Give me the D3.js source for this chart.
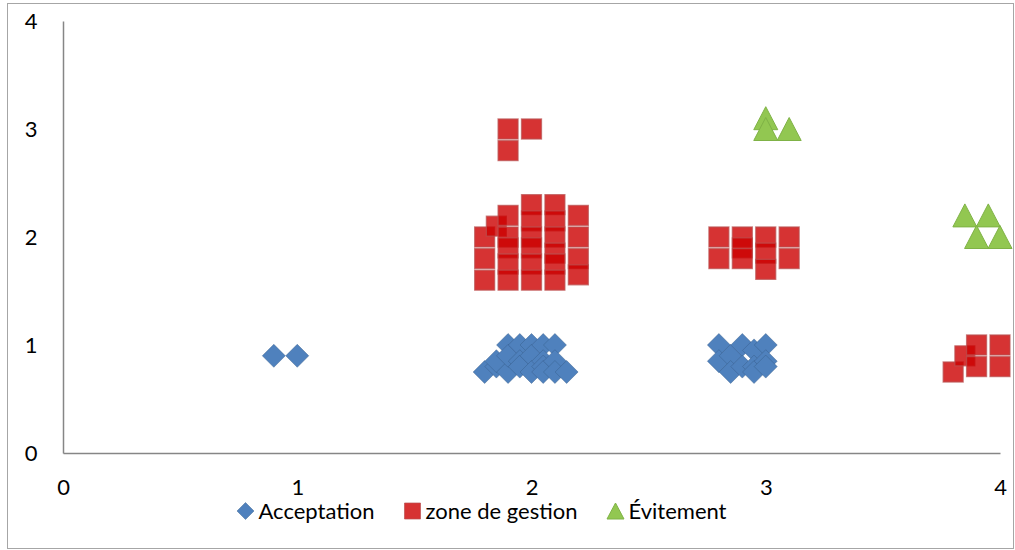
<!DOCTYPE html>
<html>
<head>
<meta charset="utf-8">
<script src="https://cdn.jsdelivr.net/npm/d3@7"></script>
<style>
  body { margin: 0; background: #fff; }
  svg { display: block; }
  text { font-family: Lato, "Open Sans", sans-serif; font-size: 22px; fill: #000; }
</style>
</head>
<body>
<svg id="chart" width="1015" height="550"></svg>
<script>
// Axis ticks
const xTicks = [0, 1, 2, 3, 4];
const yTicks = [0, 1, 2, 3, 4];

// Series points as [x, y]
const acceptation = [
  [0.9, 0.9], [1.0, 0.9],
  [1.80, 0.75], [1.85, 0.80], [1.85, 0.85], [1.90, 0.75], [1.90, 1.00], [1.90, 0.90],
  [1.95, 1.00], [1.95, 0.85], [1.95, 0.80], [2.00, 1.00], [2.00, 0.90], [2.00, 0.75],
  [2.05, 1.00], [2.05, 0.85], [2.05, 0.80], [2.05, 0.75], [2.10, 1.00], [2.10, 0.85],
  [2.10, 0.75], [2.15, 0.75],
  [2.80, 1.00], [2.80, 0.85], [2.85, 0.90], [2.85, 0.75], [2.90, 1.00], [2.90, 0.80],
  [2.95, 0.95], [2.95, 0.80], [2.95, 0.75], [3.00, 1.00], [3.00, 0.85], [3.00, 0.80]
];
const zoneGestion = [
  [1.9, 3.0], [2.0, 3.0], [1.9, 2.8],
  [1.8, 2.0], [1.8, 1.8], [1.8, 1.6],
  [1.85, 2.1],
  [1.9, 2.2], [1.9, 2.0], [1.9, 1.9], [1.9, 1.75], [1.9, 1.6],
  [2.0, 2.3], [2.0, 2.15], [2.0, 2.0], [2.0, 1.9], [2.0, 1.75], [2.0, 1.6],
  [2.1, 2.3], [2.1, 2.15], [2.1, 2.0], [2.1, 1.85], [2.1, 1.75], [2.1, 1.6],
  [2.2, 2.2], [2.2, 2.0], [2.2, 1.8], [2.2, 1.65],
  [2.8, 2.0], [2.8, 1.8], [2.9, 2.0], [2.9, 1.9], [2.9, 1.8],
  [3.0, 2.0], [3.0, 1.85], [3.0, 1.7], [3.1, 2.0], [3.1, 1.8],
  [3.8, 0.75], [3.85, 0.9], [3.9, 1.0], [3.9, 0.8], [4.0, 1.0], [4.0, 0.8]
];
const evitement = [
  [3.0, 3.1], [3.0, 3.0], [3.1, 3.0],
  [3.85, 2.2], [3.95, 2.2], [3.9, 2.0], [4.0, 2.0]
];
const seriesNames = ["Acceptation", "zone de gestion", "Évitement"];

const svg = d3.select("#chart");

const x = d3.scaleLinear().domain([0, 4]).range([63, 1000]);
const y = d3.scaleLinear().domain([0, 4]).range([453, 21]);

// Outer chart frame
svg.append("rect")
  .attr("x", 7.5).attr("y", 3.5)
  .attr("width", 1006).attr("height", 545)
  .attr("fill", "none").attr("stroke", "#a6a6a6").attr("stroke-width", 1);

// Marker shapes centred on the origin
function diamond(r) {
  const p = d3.path();
  p.moveTo(0, -r); p.lineTo(r, 0); p.lineTo(0, r); p.lineTo(-r, 0); p.closePath();
  return p.toString();
}
function square(s) {
  const p = d3.path();
  p.rect(-s / 2, -s / 2, s, s);
  return p.toString();
}
function triangle(w, h) {
  const p = d3.path();
  p.moveTo(0, -h / 2); p.lineTo(w / 2, h / 2); p.lineTo(-w / 2, h / 2); p.closePath();
  return p.toString();
}

const styles = [
  { path: diamond(11.5), legend: diamond(8.5), fill: "#4F81BD", stroke: "rgba(56,93,138,0.45)", sw: 1 },
  { path: square(20), legend: square(16), fill: "rgba(204,0,0,0.8)", stroke: "rgba(185,80,80,0.7)", sw: 1.3 },
  { path: triangle(24, 23), legend: triangle(17, 16), fill: "#92C751", stroke: "#7FB246", sw: 1 }
];

// Axes
const xAxis = svg.append("g")
  .attr("transform", `translate(0,${y(0)})`)
  .call(d3.axisBottom(x).tickValues(xTicks).tickSize(0).tickPadding(26).tickFormat(d3.format("d")));
const yAxis = svg.append("g")
  .attr("transform", `translate(${x(0)},0)`)
  .call(d3.axisLeft(y).tickValues(yTicks).tickSize(0).tickPadding(0).tickFormat(d3.format("d")));

[xAxis, yAxis].forEach(g => {
  g.attr("font-family", null).attr("font-size", null);
  g.select(".domain").attr("stroke", "#868686").attr("stroke-width", 1.5);
  g.selectAll("text").attr("fill", "#000");
});
yAxis.selectAll("text").attr("text-anchor", "middle").attr("x", 31 - x(0)).attr("dy", "0.36em");

// Points
const allSeries = [acceptation, zoneGestion, evitement];
allSeries.forEach((data, i) => {
  const st = styles[i];
  svg.append("g").selectAll("path")
    .data(data)
    .join("path")
    .attr("d", st.path)
    .attr("transform", d => `translate(${x(d[0])},${y(d[1])})`)
    .attr("fill", st.fill)
    .attr("stroke", st.stroke)
    .attr("stroke-width", st.sw);
});

// Legend, centred under the plot
const legend = svg.append("g");
const items = legend.selectAll("g").data(seriesNames).join("g");
items.append("path")
  .attr("d", (d, i) => styles[i].legend)
  .attr("fill", (d, i) => styles[i].fill)
  .attr("stroke", (d, i) => styles[i].stroke)
  .attr("stroke-width", 1);
items.append("text")
  .attr("x", 13)
  .attr("y", 8)
  .text(d => d);

const gap = 29;
let cursor = 0;
const offsets = [];
items.each(function () {
  const tw = d3.select(this).select("text").node().getComputedTextLength();
  offsets.push(cursor);
  cursor += 9 + 13 + tw + gap;
});
const total = cursor - gap;
const startX = 481.5 - total / 2;
items.attr("transform", (d, i) => `translate(${startX + 9 + offsets[i]},${511})`);
</script>
</body>
</html>
